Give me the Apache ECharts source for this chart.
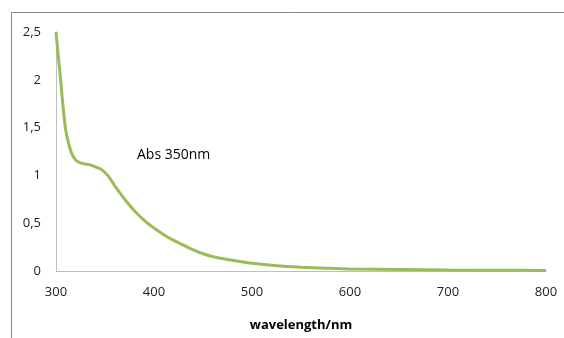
<!DOCTYPE html>
<html>
<head>
<meta charset="utf-8">
<script src="https://cdn.jsdelivr.net/npm/echarts@6/dist/echarts.min.js"></script>
<style>
  html, body { margin: 0; padding: 0; background: #fff; }
  #chart { width: 564px; height: 338px; }
</style>
</head>
<body>
<div id="chart"></div>
<script>
// Absorption spectrum, wavelength (nm) vs absorbance
const wavelengths = [300, 302, 304, 306, 308, 310, 313, 316, 320, 325, 330, 335, 340, 345, 350, 355, 360, 365, 370, 380, 390, 400, 410, 420, 430, 440, 450, 460, 475, 500, 525, 550, 575, 600, 650, 700, 750, 800];
const absorbance  = [2.50, 2.28, 2.08, 1.85, 1.64, 1.47, 1.33, 1.23, 1.16, 1.13, 1.12, 1.11, 1.09, 1.07, 1.03, 0.97, 0.89, 0.82, 0.75, 0.63, 0.53, 0.45, 0.38, 0.32, 0.27, 0.22, 0.18, 0.15, 0.12, 0.08, 0.055, 0.04, 0.03, 0.022, 0.015, 0.01, 0.008, 0.005];
const xTicks = [300, 400, 500, 600, 700, 800];
const yTicks = [0, 0.5, 1, 1.5, 2, 2.5];
const annotation = 'Abs 350nm';
const xTitle = 'wavelength/nm';

const font = '"Open Sans", Lato, sans-serif';
const chart = echarts.init(document.getElementById('chart'));
chart.setOption({
  animation: false,
  grid: { left: 56, right: 18, top: 32, bottom: 67, containLabel: false },
  xAxis: {
    type: 'value',
    min: xTicks[0], max: xTicks[xTicks.length - 1], interval: 100,
    name: xTitle, nameLocation: 'middle', nameGap: 48,
    nameTextStyle: { fontFamily: font, fontSize: 13, fontWeight: 'bold', color: '#000' },
    axisLine: { show: true, lineStyle: { color: '#bfbfbf', width: 1 } },
    axisTick: { show: false },
    splitLine: { show: false },
    axisLabel: { fontFamily: font, fontSize: 13, color: '#222', margin: 15 }
  },
  yAxis: {
    type: 'value',
    min: yTicks[0], max: yTicks[yTicks.length - 1], interval: 0.5,
    axisLine: { show: true, lineStyle: { color: '#bfbfbf', width: 1 } },
    axisTick: { show: false },
    splitLine: { show: false },
    axisLabel: {
      fontFamily: font, fontSize: 13, color: '#222', margin: 15,
      formatter: v => String(v).replace('.', ',')
    }
  },
  series: [{
    type: 'line',
    data: wavelengths.map((w, i) => [w, absorbance[i]]),
    smooth: 0.3,
    showSymbol: false,
    lineStyle: { color: '#9bbb59', width: 3 }
  }],
  graphic: [
    {
      type: 'polyline',
      shape: { points: [[11.5, 340], [11.5, 12.5], [566, 12.5]] },
      style: { stroke: '#888', lineWidth: 1, fill: null }
    },
    {
      type: 'text', left: 137, top: 148,
      style: { text: annotation, font: '14px ' + font, fill: '#000' }
    }
  ]
});
</script>
</body>
</html>
